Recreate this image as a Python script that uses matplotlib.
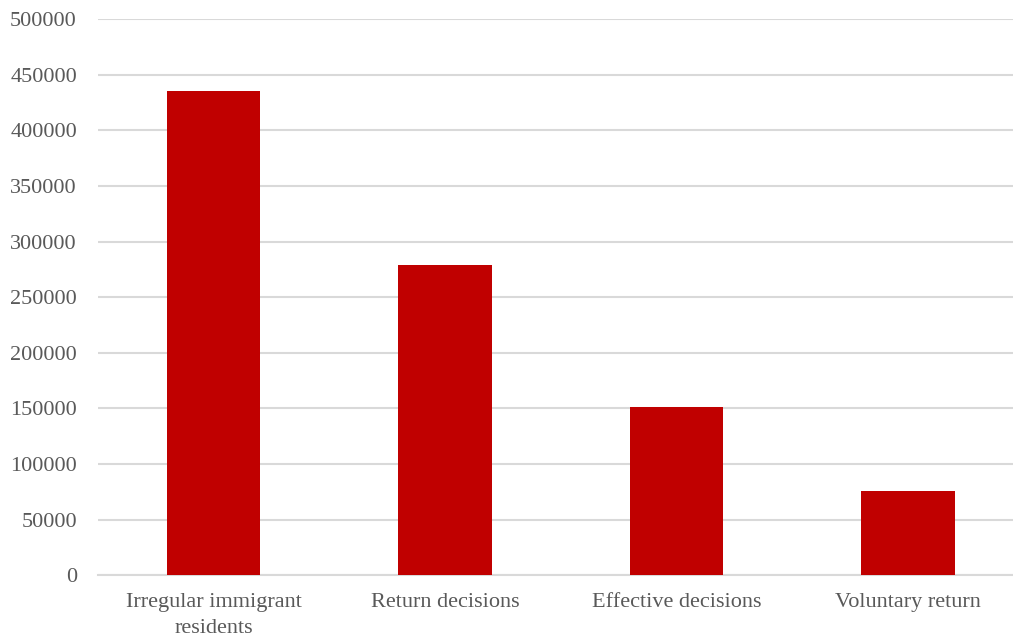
import matplotlib
matplotlib.use("Agg")
import matplotlib.pyplot as plt

categories = ["Irregular immigrant\nresidents", "Return decisions", "Effective decisions", "Voluntary return"]
values = [435000, 279000, 151000, 75500]
yticks = [0, 50000, 100000, 150000, 200000, 250000, 300000, 350000, 400000, 450000, 500000]

plt.rcParams['font.family'] = ['Liberation Serif', 'DejaVu Serif']
text_color = "#595959"

fig = plt.figure(figsize=(10.13, 6.41), dpi=100)
ax = fig.add_axes([97.75/1013, 65.7/641, 926/1013, (622-65.7)/641])

x = list(range(len(categories)))
ax.bar(x, values, width=0.402, color="#C00000", zorder=3)
ax.set_xlim(-0.5, 3.5)
ax.set_ylim(0, 500000)
ax.set_yticks(yticks)
ax.set_yticklabels([str(v) for v in yticks])
ax.set_xticks(x)
ax.set_xticklabels(categories)
for lbl in ax.get_xticklabels():
    lbl.set_linespacing(1.5)
ax.grid(axis="y", color="#D9D9D9", linewidth=1.5, zorder=0)
for s in ["top", "right", "left"]:
    ax.spines[s].set_visible(False)
ax.spines["bottom"].set_color("#D9D9D9")
ax.spines["bottom"].set_linewidth(1.5)
ax.tick_params(axis="both", length=0, colors=text_color, labelsize=16)
ax.tick_params(axis="y", pad=15)
ax.tick_params(axis="x", pad=13)

fig.savefig("out.png", dpi=100)
